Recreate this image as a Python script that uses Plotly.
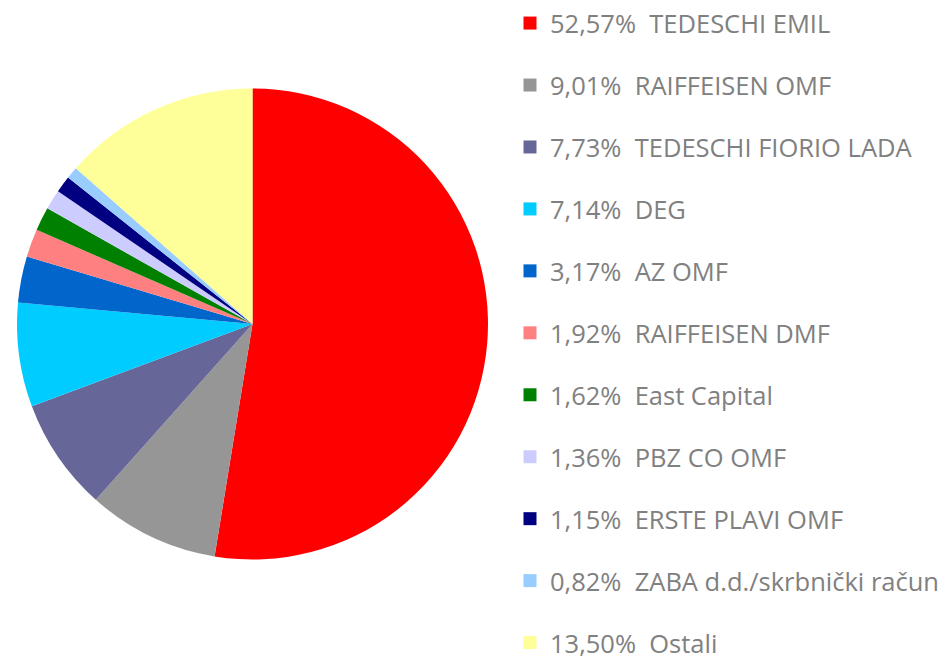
import plotly.graph_objects as go

names = ["TEDESCHI EMIL", "RAIFFEISEN OMF", "TEDESCHI FIORIO LADA", "DEG", "AZ OMF",
         "RAIFFEISEN DMF", "East Capital", "PBZ CO OMF", "ERSTE PLAVI OMF",
         "ZABA d.d./skrbnički račun", "Ostali"]
shares = [52.57, 9.01, 7.73, 7.14, 3.17, 1.92, 1.62, 1.36, 1.15, 0.82, 13.50]
share_labels = ["52,57%", "9,01%", "7,73%", "7,14%", "3,17%", "1,92%", "1,62%",
                "1,36%", "1,15%", "0,82%", "13,50%"]
colors = ["#FF0000", "#969696", "#666699", "#00CCFF", "#0066CC", "#FF8080",
          "#008000", "#CCCCFF", "#000080", "#99CCFF", "#FFFF99"]

W, H = 951, 657
fig = go.Figure()
fig.add_trace(go.Pie(
    labels=names, values=shares, sort=False, direction="clockwise", rotation=0,
    marker=dict(colors=colors, line=dict(width=0)),
    textinfo="none", showlegend=False,
    domain=dict(x=[9/W, 480/W], y=[1-552/H, 1-80/H]),
))
for i, (n, s, c) in enumerate(zip(names, share_labels, colors)):
    fig.add_trace(go.Scatter(
        x=[None], y=[None], mode="markers",
        marker=dict(symbol="square", size=13, color=c),
        name=f"{s}  {n}", legendgroup=f"g{i}", showlegend=True,
    ))

fig.update_layout(
    width=W, height=H,
    margin=dict(l=0, r=0, t=0, b=0, autoexpand=False),
    paper_bgcolor="white", plot_bgcolor="white",
    xaxis=dict(visible=False), yaxis=dict(visible=False),
    legend=dict(x=502/W, y=1 + 8/H, xanchor="left", yanchor="top",
                font=dict(family="Open Sans", size=25.5, color="#808080"),
                tracegroupgap=25.8, itemwidth=30, maxheight=800,
                bgcolor="rgba(0,0,0,0)"),
)
fig.write_html("out.html")
